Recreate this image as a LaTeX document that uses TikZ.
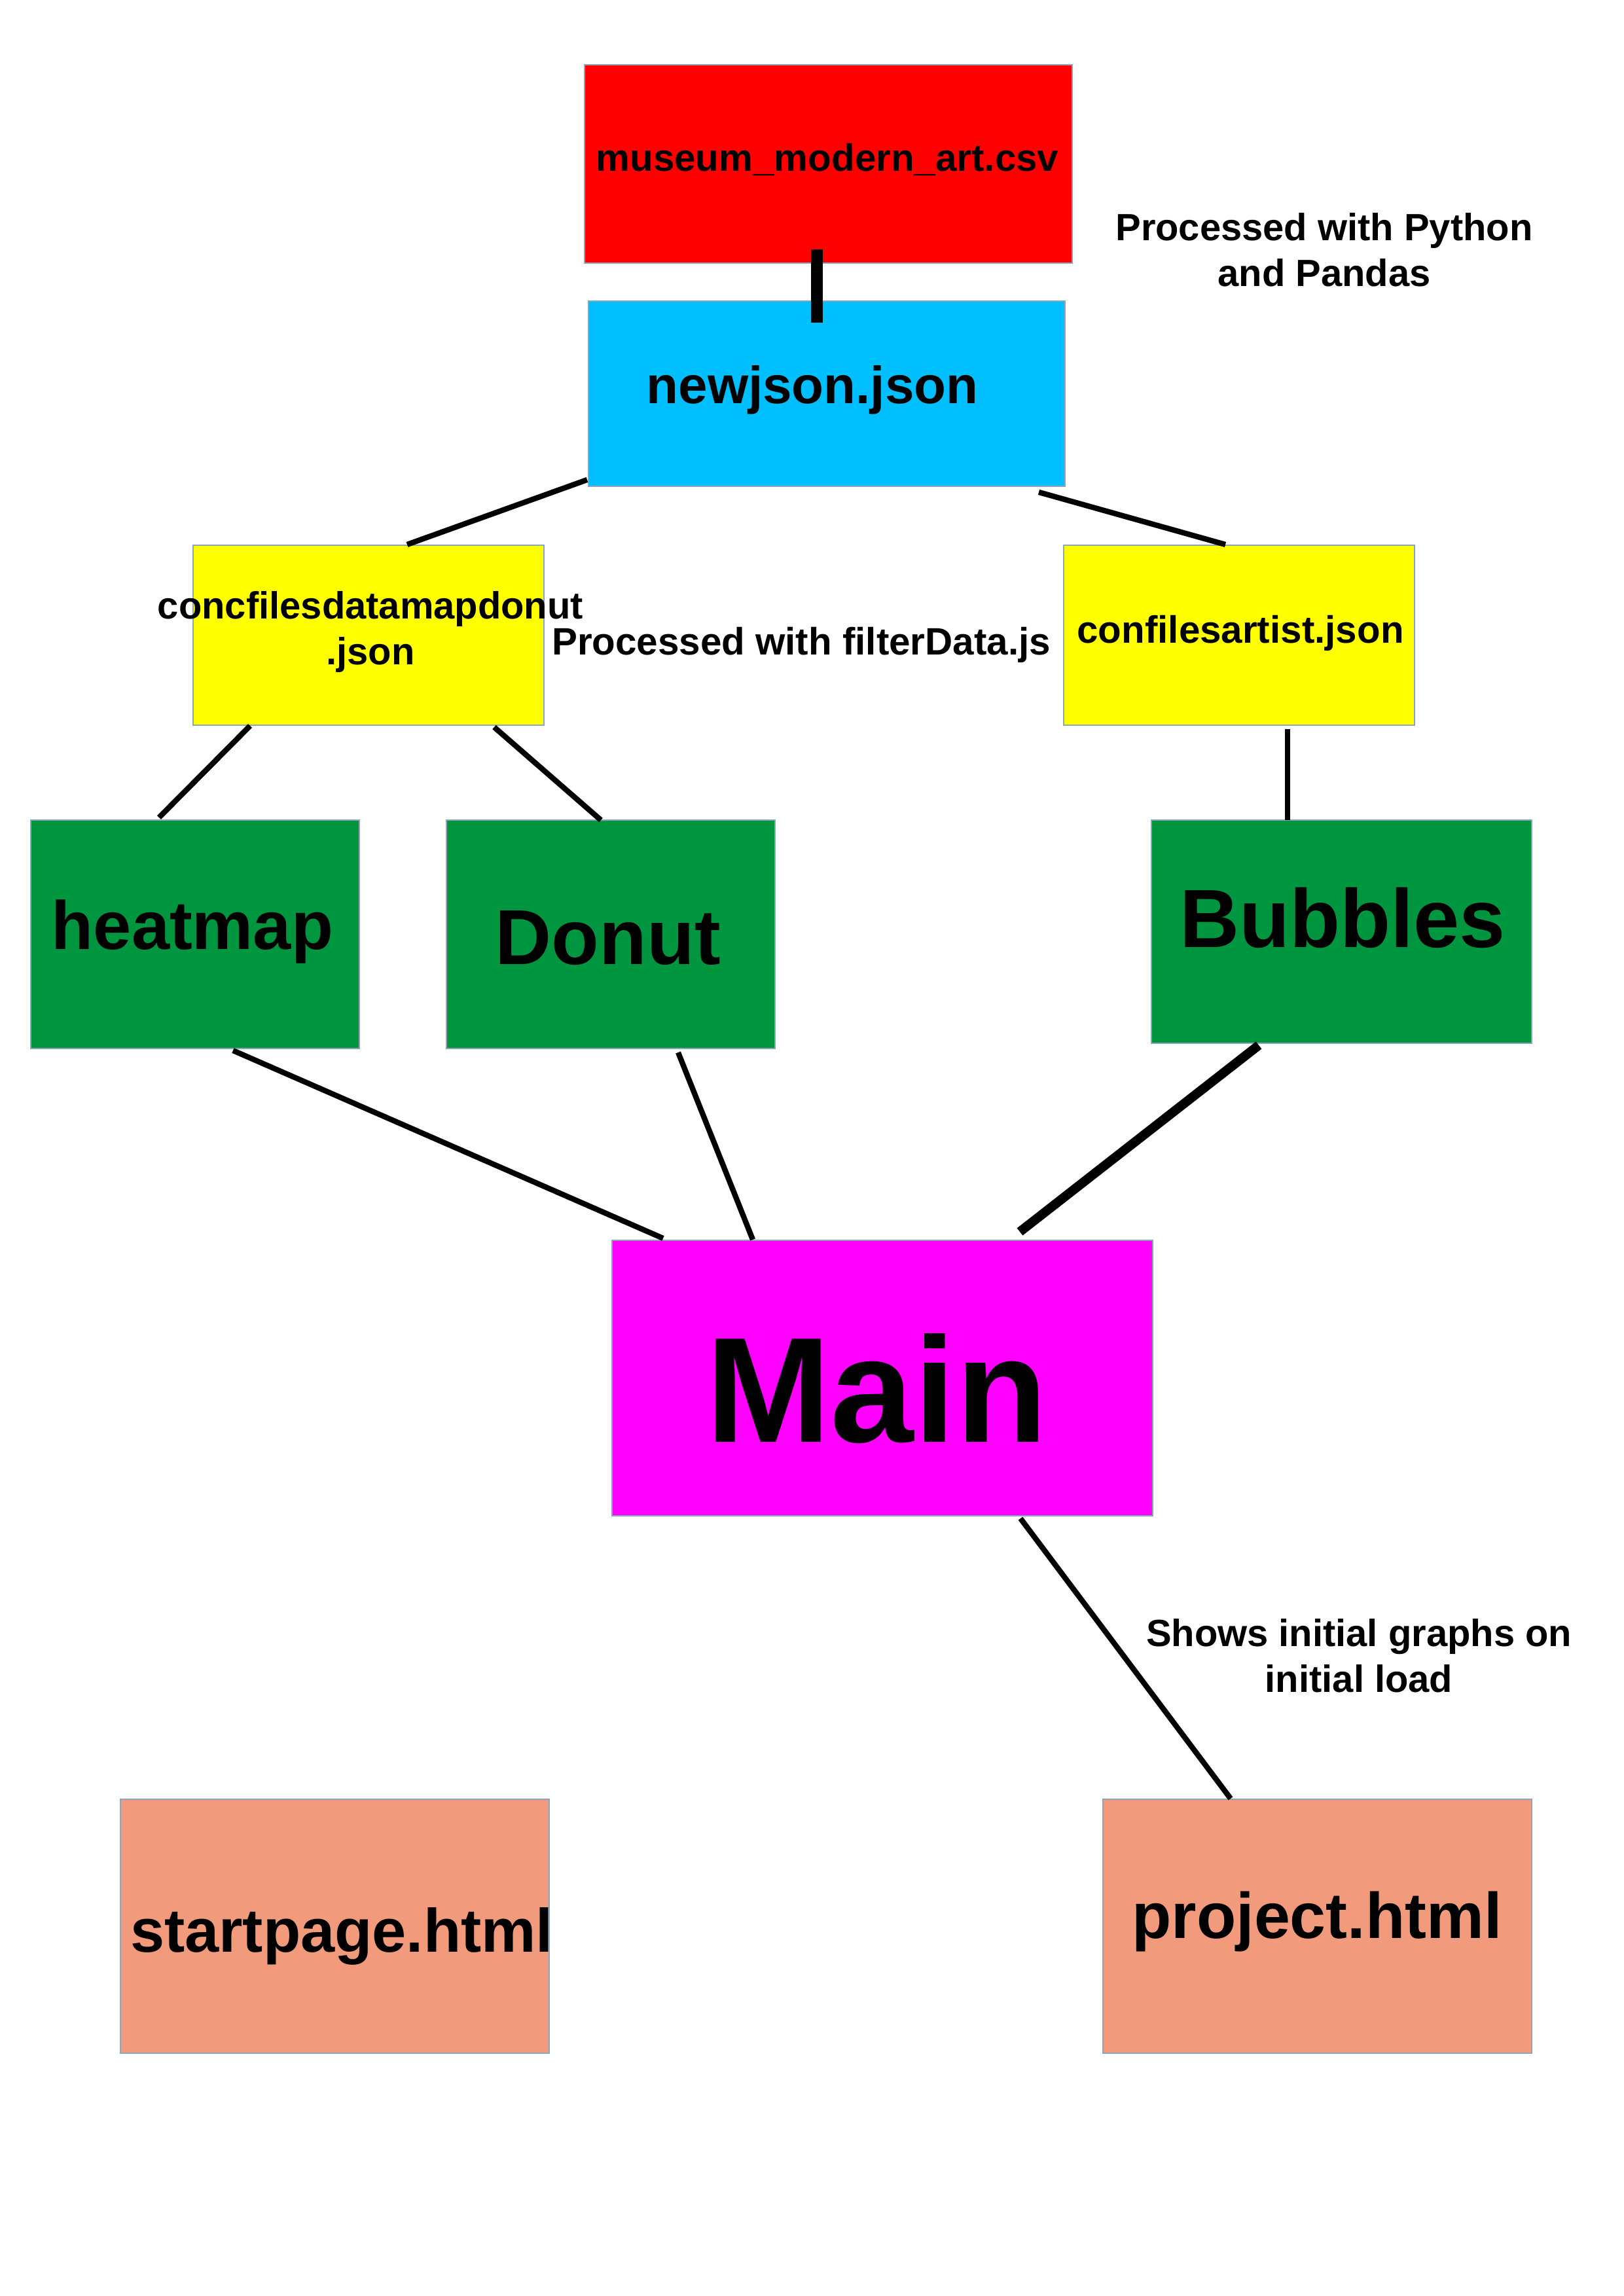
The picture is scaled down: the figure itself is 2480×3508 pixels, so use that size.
\documentclass[tikz,border=0pt]{standalone}
\usepackage{fontspec}
\setmainfont{Liberation Sans}
\definecolor{cred}{RGB}{255,0,0}
\definecolor{cblue}{RGB}{0,191,255}
\definecolor{cyellow}{RGB}{255,255,0}
\definecolor{cgreen}{RGB}{0,150,64}
\definecolor{cmagenta}{RGB}{255,0,255}
\definecolor{csalmon}{RGB}{241,155,124}
\definecolor{cborder}{RGB}{140,165,185}
\tikzset{
  box/.style 2 args={draw=cborder, line width=0.3pt, inner sep=0pt, outer sep=0pt,
    minimum width=#1*0.24pt, minimum height=#2*0.24pt},
  lbl/.style={inner sep=0pt, outer sep=0pt, text=black, font=\bfseries\fontsize{#1}{#1}\selectfont},
  lbl/.default=13.9,
  small/.style={inner sep=0pt, outer sep=0pt, align=center, font=\bfseries\fontsize{13.9}{16.8}\selectfont},
  conn/.style={draw=black, line width=2pt, line cap=butt},
}
\begin{document}
\begin{tikzpicture}[x=0.24pt, y=-0.24pt]
\useasboundingbox (0,0) rectangle (2480,3508);
% boxes
\node[box={745}{303}, fill=cred] (red) at (1265.5,250.5) {};
\node[box={728}{283}, fill=cblue] (blue) at (1263,601.5) {};
\node[box={536}{275}, fill=cyellow] (yl) at (563,970.5) {};
\node[box={536}{275}, fill=cyellow] (yr) at (1893,970.5) {};
\node[box={502}{349}, fill=cgreen] (heat) at (298,1427.5) {};
\node[box={502}{349}, fill=cgreen] (donut) at (933,1427.5) {};
\node[box={581}{341}, fill=cgreen] (bub) at (2049.5,1423.5) {};
\node[box={826}{421}, fill=cmagenta] (main) at (1348,2105.5) {};
\node[box={655}{388}, fill=csalmon] (start) at (511.5,2943) {};
\node[box={655}{388}, fill=csalmon] (proj) at (2012.5,2943) {};
% texts
\node[lbl=14, anchor=base] (tred) at (1264,262) {museum\_modern\_art.csv};
\node[lbl=19.2, anchor=base] (tblue) at (1241,617) {newjson.json};
\node[small] (tpy) at (2023,382) {Processed with Python\\and Pandas};
\node[small] (tyl) at (566,966) {concfilesdatamapdonut\\.json};
\node[lbl=14, anchor=base] (tfilter) at (1224,1000) {Processed with filterData.js};
\node[lbl=14, anchor=base] (tyr) at (1895,982) {confilesartist.json};
\node[lbl=25.1, anchor=base] (theat) at (294,1450) {heatmap};
\node[lbl=28.6, anchor=base] (tdonut) at (929,1473) {Donut};
\node[lbl=30.3, anchor=base] (tbub) at (2051,1447) {Bubbles};
\node[lbl=55, anchor=base] (tmain) at (1339,2203) {Main};
\node[small] (tshows) at (2076,2530) {Shows initial graphs on\\initial load};
\node[lbl=22.5, anchor=base] (tstart) at (522,2982) {startpage.html};
\node[lbl=23.7, anchor=base] (tproj) at (2012,2961) {project.html};
% connectors
\draw[conn, line width=4.3pt] ([shift={(-17.5,-21)}]red.south) -- ([shift={(-15,33)}]blue.north);
\draw[conn] ([shift={(-2,-10)}]blue.south west) -- ([shift={(327,-1)}]yl.north west);
\draw[conn] ([shift={(-40,9)}]blue.south east) -- ([shift={(247,-1)}]yr.north west);
\draw[conn] ([shift={(87,1)}]yl.south west) -- ([shift={(196,-4)}]heat.north west);
\draw[conn] ([shift={(460,3)}]yl.south west) -- ([shift={(236,0)}]donut.north west);
\draw[conn] ([shift={(342,6)}]yr.south west) -- ([shift={(208,0)}]bub.north west);
\draw[conn] ([shift={(309,3)}]heat.south west) -- ([shift={(78,-3)}]main.north west);
\draw[conn] ([shift={(354,6)}]donut.south west) -- ([shift={(215,-1)}]main.north west);
\draw[conn, line width=3.4pt] ([shift={(164,3)}]bub.south west) -- ([shift={(623,-13)}]main.north west);
\draw[conn] ([shift={(624,4)}]main.south west) -- ([shift={(195,-1)}]proj.north west);
\end{tikzpicture}
\end{document}
